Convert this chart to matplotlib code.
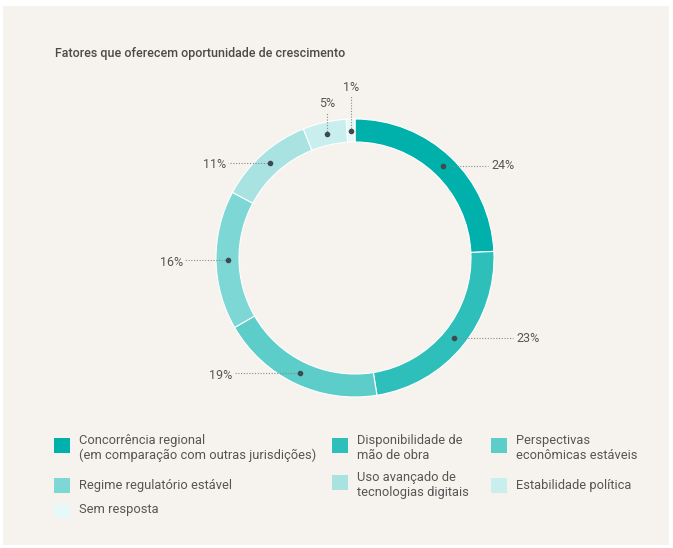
import numpy as np
import matplotlib.pyplot as plt
from matplotlib.patches import Rectangle

plt.rcParams['font.family'] = ['Roboto', 'DejaVu Sans']

title = "Fatores que oferecem oportunidade de crescimento"
labels = ["Concorrência regional\n(em comparação com outras jurisdições)",
          "Disponibilidade de\nmão de obra",
          "Perspectivas\neconômicas estáveis",
          "Regime regulatório estável",
          "Uso avançado de\ntecnologias digitais",
          "Estabilidade política",
          "Sem resposta"]
values = [24, 23, 19, 16, 11, 5, 1]
colors = ["#00b0ab", "#2ebfbb", "#5dcdca", "#7dd7d5", "#a8e3e2", "#c9eeee", "#e8f7f7"]

W, H = 673, 548
bg = "#f6f3ee"
fig = plt.figure(figsize=(W / 100, H / 100), dpi=100)
fig.patch.set_facecolor("white")
ax = fig.add_axes([0, 0, 1, 1])
ax.set_axis_off()

def py(y):
    # pixel y (from top) to data y
    return H - y

# card background
ax.add_patch(Rectangle((3, py(545)), 666, 539, facecolor=bg, edgecolor="none", zorder=0))

cx, cy, R, w = 355, py(258), 139, 23
ax.pie(values, colors=colors, startangle=90, counterclock=False, center=(cx, cy),
       radius=R, wedgeprops=dict(width=w, edgecolor="white", linewidth=0.8))
ax.set_xlim(0, W)
ax.set_ylim(0, H)
ax.set_aspect("auto")

fig.text(55 / W, 1 - 54 / H, title, fontsize=9, fontweight="medium",
         color="#4a4a4a", va="center", ha="left")

# value labels with dotted leaders
total = sum(values)
cum = np.cumsum([0] + values[:-1])
mid = (cum + np.array(values) / 2) / total * 2 * np.pi
rm = R - w / 2
# (direction, leader end in px) per label
leaders = [("h", 488), ("h", 513), ("h", 234), ("h", 185), ("h", 228), ("v", 112), ("v", 96)]
for v, a, (d, end) in zip(values, mid, leaders):
    dx = cx + rm * np.sin(a)
    dy = cy + rm * np.cos(a)
    txt = f"{v}%"
    if d == "h":
        ax.plot([dx, end], [dy, dy], ls=(0, (1, 1.5)), lw=0.8, color="#8a8a8a", zorder=3)
        if end > dx:
            ax.text(end + 3, dy, txt, ha="left", va="center", fontsize=9, color="#555555")
        else:
            ax.text(end - 2, dy - 2, txt, ha="right", va="center", fontsize=9, color="#555555")
    else:
        ax.plot([dx, dx], [dy, py(end)], ls=(0, (1, 1.5)), lw=0.8, color="#8a8a8a", zorder=3)
        ax.text(dx, py(end) + 2, txt, ha="center", va="bottom", fontsize=9, color="#555555")
    ax.scatter([dx], [dy], s=9, color="#3d4a52", zorder=4)

# legend
col_x = [54, 332, 491]
row_y = [448, 485, 510]
for i, (lab, c) in enumerate(zip(labels, colors)):
    r, k = divmod(i, 3)
    x0, y0 = col_x[k], row_y[r]
    nl = lab.count("\n")
    sq_y = y0 - 3 if nl else y0
    ax.add_patch(Rectangle((x0, py(sq_y + 7.5)), 16, 15, facecolor=c, edgecolor="none"))
    ax.text(x0 + 25, py(y0), lab, ha="left", va="center", fontsize=9.3,
            color="#555555", linespacing=1.15)

fig.savefig("out.png", dpi=100, facecolor=fig.get_facecolor())
